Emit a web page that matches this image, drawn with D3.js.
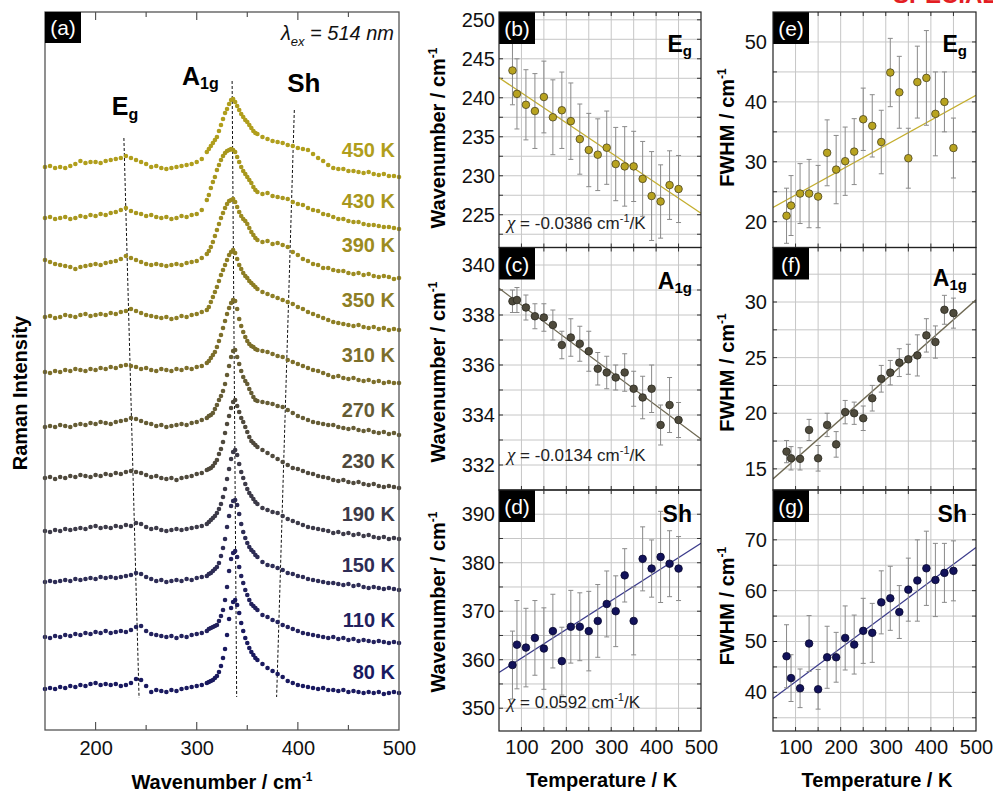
<!DOCTYPE html>
<html><head><meta charset="utf-8">
<script src="https://cdn.jsdelivr.net/npm/d3@7"></script>
<style>body{margin:0;background:#fff;} svg{display:block;}</style>
</head><body><svg id="c" width="993" height="792"></svg>
<script>
// ---------------- DATA ----------------
const wavenumbers = [150,155,160,165,170,175,180,185,190,195,200,205,210,215,220,225,230,235,240,245,250,255,260,265,270,275,280,285,290,295,300,305,310,
312,314,316,318,320,322,324,326,328,330,332,334,336,338,340,342,344,346,348,350,352,354,356,358,
360,365,370,375,380,385,390,395,400,405,410,415,420,425,430,435,440,445,450,455,460,465,470,475,480,485,490,495,500];
const traceLabels = ["450 K","430 K","390 K","350 K","310 K","270 K","230 K","190 K","150 K","110 K","80 K"];
const traceOffsets = [563,512,468,413,358,303,252,199,148,93,41];
const traceColors = ["#b09e1c","#a8971d","#9c8b20","#8d7e24","#7c6e2a","#655c34","#4f493c","#3c3a48","#2d2c55","#22215d","#19195f"];
const spec450 = [0,1,-1,0,-1,1,3,6,4,5,5,4,6,7,8,9,11,9,7,5,3,0,1,-1,-2,-1,0,1,2,3,5,8,15,
18,21,24,27,30,36,42,48,54,58,63,67,68,65,61,57,53,50,47,45,42,39,36,34,
33,30,28,26,25,24,22,21,19,18,17,13,9,6,2,-1,-2,-2,-4,-4,-5,-6,-5,-7,-8,-7,-9,-9,-10];
const spec430 = [0,1,-1,0,1,-1,0,2,1,3,2,4,3,5,6,8,10,7,5,4,2,3,1,0,1,-1,0,2,1,3,4,8,18,
23,30,36,41,48,53,58,62,65,67,68,69,68,66,61,56,51,47,44,41,38,35,31,28,
26,24,25,22,21,20,19,16,14,13,10,8,7,4,3,1,-1,-1,-3,-4,-4,-6,-7,-7,-8,-9,-9,-10,-11];
const spec390 = [2,0,-2,-3,-4,-5,-7,-5,-4,-3,-2,-3,-1,0,1,3,6,4,2,0,-2,-3,-2,-3,-4,-3,-2,-3,-1,0,1,4,8,
11,15,20,26,32,38,44,49,54,58,61,62,63,60,55,50,46,43,41,38,34,30,27,24,
22,20,21,18,19,17,15,10,7,3,1,-2,-3,-6,-6,-8,-9,-9,-11,-12,-11,-13,-12,-14,-15,-14,-15,-17,-16];
const spec350 = [0,1,-1,0,2,1,0,2,3,1,2,3,2,4,3,5,6,8,6,4,2,1,0,-1,0,-2,-1,1,0,2,3,5,7,
10,15,20,25,30,36,42,47,52,57,62,65,67,64,58,52,48,44,41,39,36,34,32,30,
28,25,23,21,19,17,15,13,10,8,5,3,1,-1,-3,-5,-6,-7,-8,-9,-8,-10,-11,-10,-12,-11,-13,-12,-13];
const spec310 = [0,-1,1,0,2,1,3,2,1,3,2,4,3,5,4,6,7,6,5,3,4,2,1,3,2,1,3,2,4,3,5,6,9,
11,14,17,20,25,31,37,44,51,58,64,69,72,71,63,53,46,40,35,31,28,26,25,23,
22,21,20,18,16,15,12,10,8,6,4,2,1,-1,-3,-5,-4,-6,-7,-6,-8,-9,-8,-10,-9,-11,-10,-11,-11];
const spec270 = [0,1,0,2,1,0,2,3,2,4,3,5,4,3,5,6,7,9,8,6,4,3,1,2,0,1,2,3,2,4,5,7,9,
11,12,14,18,22,27,31,36,43,52,61,70,76,77,70,63,56,50,46,43,38,34,30,27,
26,25,24,23,21,20,17,14,11,9,7,5,4,3,2,2,0,-1,-2,-1,-3,-4,-3,-5,-6,-5,-7,-6,-8];
const spec230 = [0,1,-1,1,0,2,1,3,2,1,3,2,4,3,5,4,6,7,6,5,3,1,2,0,-1,0,-2,0,1,2,4,5,8,
9,10,12,15,18,24,29,36,45,54,62,70,76,78,72,66,60,56,51,46,41,37,35,33,
31,28,25,22,19,16,13,10,9,7,5,4,2,1,0,-2,-3,-2,-4,-5,-4,-6,-7,-6,-8,-9,-8,-9,-10];
const spec190 = [0,-1,1,0,2,1,2,3,2,4,5,3,4,3,5,4,6,5,8,7,4,2,3,1,0,1,2,1,2,3,4,5,7,
9,11,13,15,18,22,27,34,42,52,62,72,79,81,76,67,59,53,47,42,38,35,32,29,
27,23,21,19,18,15,12,10,8,6,4,3,2,1,0,-2,-1,-3,-2,-4,-3,-5,-4,-6,-7,-6,-8,-7,-8];
const spec150 = [0,1,0,1,2,1,3,2,3,4,3,5,4,5,4,5,6,7,9,8,5,3,1,2,0,1,2,1,3,2,4,5,6,
8,9,11,13,15,19,26,34,43,55,66,76,81,82,77,68,58,50,44,39,35,32,30,27,
25,20,17,16,14,12,9,8,6,5,3,2,1,0,-1,-1,-2,-3,-2,-4,-3,-5,-6,-5,-6,-7,-6,-7,-8];
const spec110 = [0,-1,1,0,2,1,3,2,4,3,5,4,6,4,5,6,5,7,10,11,6,3,2,1,0,1,-1,1,0,2,3,4,6,
8,9,10,11,12,16,21,27,37,50,66,78,84,86,80,70,61,54,47,42,37,33,31,29,
27,22,20,17,15,12,10,8,6,4,3,2,1,0,-1,0,-2,-1,-3,-2,-4,-3,-4,-5,-4,-5,-6,-5,-6];
const spec80 = [0,1,0,2,1,3,2,4,3,5,6,4,5,4,5,3,4,6,10,9,3,-3,-1,-2,-3,-1,-2,0,1,2,3,4,6,
7,8,9,11,13,17,23,31,40,54,70,81,87,89,84,76,66,58,51,46,41,37,34,31,
29,25,21,18,15,12,8,6,4,3,2,1,0,1,-1,-1,-2,-1,-3,-2,-3,-4,-3,-4,-3,-5,-4,-3,-4];
const spectra = [spec450,spec430,spec390,spec350,spec310,spec270,spec230,spec190,spec150,spec110,spec80];

// mode guide lines in (a): wavenumber and intensity at top and bottom ends
const modeNames = ["Eg","A1g","Sh"];
const modeWnTop = [228,335,396.5];
const modeWnBottom = [243,339.5,379];
const modeIntTop = [592,649,620];
const modeIntBottom = [32,33,33];

// temperature-dependent fits
const tempK = [80,90,110,130,150,170,190,210,230,250,270,290,310,330,350,370,390,410,430,450];
const egPos = [243.5,240.5,239.1,238.3,240.1,237.5,238.4,237.0,234.7,233.3,232.7,233.6,231.5,231.2,231.2,229.6,227.4,226.7,228.8,228.3];
const egPosErr = [4.4,4.5,4.5,4.8,4.6,4.8,4.9,4.9,4.5,4.7,4.6,4.7,4.7,5.1,4.5,4.8,5.7,4.7,4.4,4.3];
const a1gPos = [338.55,338.6,338.3,337.95,337.9,337.6,336.8,337.1,336.85,336.55,335.85,335.7,335.5,335.7,335.05,334.7,335.05,333.6,334.4,333.8];
const a1gPosErr = [0.45,0.5,0.5,0.5,0.55,0.6,0.55,0.75,0.7,0.8,0.65,0.65,0.5,0.75,0.7,0.85,0.95,0.8,1.1,0.7];
const shPos = [358.9,363.1,362.5,364.5,362.3,365.9,359.7,366.8,366.8,365.9,368.0,371.5,370.0,377.4,368.0,380.8,378.8,381.2,379.8,378.8];
const shPosErr = [7.0,9.1,8.1,7.7,8.4,7.6,7.0,7.5,7.0,8.2,7.5,6.8,7.3,5.5,7.0,6.6,5.9,9.4,6.8,6.6];
const egFwhm = [21.0,22.7,24.7,24.7,24.2,31.5,28.7,30.1,31.7,37.1,36.0,33.3,44.9,41.6,30.6,43.3,44.0,38.0,40.0,32.3];
const egFwhmErr = [4.6,5.0,5.0,5.7,5.2,5.5,5.7,5.7,5.5,5.2,5.2,5.3,5.7,6.0,5.0,6.0,7.9,7.0,5.0,5.0];
const a1gFwhm = [16.55,15.95,15.9,18.5,15.95,18.95,17.2,20.1,20.0,19.55,21.35,23.1,23.65,24.55,24.85,25.2,27.0,26.4,29.3,29.0];
const a1gFwhmErr = [1.0,1.05,1.0,0.95,1.15,1.05,1.15,1.05,1.0,1.1,1.15,1.2,1.1,1.25,1.35,1.85,1.5,1.45,1.3,1.35];
const shFwhm = [47.1,42.8,40.8,49.6,40.6,46.9,46.9,50.7,49.4,52.1,51.7,57.7,58.5,55.8,60.2,62.0,64.4,62.1,63.5,63.9];
const shFwhmErr = [6.2,4.6,3.8,5.5,3.9,6.1,4.9,6.3,5.8,6.4,5.8,6.2,6.3,5.2,6.2,8.0,7.3,7.2,5.8,5.9];
const fitSlope = [-0.0386,-0.0134,0.0592,0.0416,0.0358,0.066];
const fitIntercept = [244.5,339.74,354.4,20.3,12.3,35.5];
const chiLabels = ["-0.0386","-0.0134","0.0592"];
const gridT = [100,150,200,250,300,350,400,450];
const tLabels = [100,200,300,400,500];
const aMajor = [200,300,400];
const aMinor = [250,350,450];
const aLabels = [200,300,400,500];

// ---------------- DRAW ----------------
const FONT = "Arial, 'Liberation Sans', Helvetica, sans-serif";
const svg = d3.select("#c").attr("font-family", FONT);

// red cut-off header text at the very top right
svg.append("text").attr("x",893).attr("y",3).attr("font-size",24).attr("font-weight","bold")
  .attr("fill","#e31e24").text("SPECIAL");

// ===== Panel (a) =====
const xA = d3.scaleLinear().domain([150,500]).range([45,399]);
const yA = d3.scaleLinear().domain([0,718]).range([730,12]);
const gA = svg.append("g");

// ticks (inward, top and bottom)
[[aMajor,8],[aMinor,5]].forEach(([vals,len])=>{
  gA.append("g").selectAll("line").data(vals).join("line")
    .attr("x1",d=>xA(d)).attr("x2",d=>xA(d)).attr("y1",yA(0)).attr("y2",yA(0)-len)
    .attr("stroke","#555").attr("stroke-width",1.2);
  gA.append("g").selectAll("line").data(vals).join("line")
    .attr("x1",d=>xA(d)).attr("x2",d=>xA(d)).attr("y1",yA(718)).attr("y2",yA(718)+len)
    .attr("stroke","#555").attr("stroke-width",1.2);
});

// dashed guide lines
modeNames.forEach((m,i)=>{
  gA.append("line")
    .attr("x1",xA(modeWnTop[i])).attr("y1",yA(modeIntTop[i]))
    .attr("x2",xA(modeWnBottom[i])).attr("y2",yA(modeIntBottom[i]))
    .attr("stroke","#111").attr("stroke-width",1).attr("stroke-dasharray","3,2");
});

// spectra
spectra.forEach((spec,i)=>{
  const pts = spec.map((v,j)=>[wavenumbers[j], traceOffsets[i]+v]);
  gA.append("g").attr("fill",traceColors[i]).selectAll("circle").data(pts).join("circle")
    .attr("cx",d=>xA(d[0])).attr("cy",d=>yA(d[1])).attr("r",2.3);
  gA.append("text").attr("x",395).attr("y",yA(traceOffsets[i])-10)
    .attr("text-anchor","end").attr("font-size",20).attr("font-weight","bold")
    .attr("fill",traceColors[i]).text(traceLabels[i]);
});

// mode labels in (a)
function modeLabel(g, x, y, main, sub, size, subSize, dy, anchor){
  const t = g.append("text").attr("x",x).attr("y",y).attr("text-anchor",anchor||"start")
    .attr("font-weight","bold").attr("fill","#000").attr("font-size",size);
  t.append("tspan").text(main);
  if(sub) t.append("tspan").attr("font-size",subSize).attr("dy",dy).text(sub);
}
modeLabel(gA, xA(216), 115, "E", "g", 25, 16, 5);
modeLabel(gA, xA(285.5), 85, "A", "1g", 25, 16, 4);
modeLabel(gA, xA(389.5), 92, "Sh", null, 26);

// lambda
const lam = gA.append("text").attr("x",394).attr("y",40).attr("text-anchor","end")
  .attr("font-size",20).attr("font-style","italic").attr("fill","#111");
lam.append("tspan").text("λ");
lam.append("tspan").attr("font-size",13).attr("dy",6).text("ex");
lam.append("tspan").attr("dy",-6).text(" = 514 nm");

// frame
gA.append("rect").attr("x",xA(150)).attr("y",yA(718)).attr("width",xA(500)-xA(150)).attr("height",yA(0)-yA(718))
  .attr("fill","none").attr("stroke","#555").attr("stroke-width",1.3);
// (a) box
gA.append("rect").attr("x",45).attr("y",12).attr("width",36).attr("height",31).attr("fill","#000");
gA.append("text").attr("x",63).attr("y",35).attr("text-anchor","middle").attr("fill","#fff").attr("font-size",21).text("(a)");

// x axis labels (a)
const axA = gA.append("g").attr("transform",`translate(0,${yA(0)})`)
  .call(d3.axisBottom(xA).tickValues(aLabels).tickSize(0).tickPadding(11).tickFormat(d3.format("d")));
axA.select(".domain").remove();
axA.selectAll("text").attr("font-size",20).attr("font-family",FONT).attr("fill","#111");

// axis titles
function title(x,y,rot,txt,sup,rest){
  const t = svg.append("text").attr("transform",`translate(${x},${y}) rotate(${rot})`)
    .attr("text-anchor","middle").attr("font-weight","bold").attr("font-size",20).attr("fill","#000");
  t.append("tspan").text(txt);
  if(sup){ t.append("tspan").attr("font-size",12).attr("dy",-8).text(sup);
    if(rest) t.append("tspan").attr("dy",8).text(rest); }
}
title(27,393,-90,"Raman Intensity");
title(222,789,0,"Wavenumber / cm","-1");

// ===== Right panels =====
const rows = [[12,247.5],[247.5,490],[490,731]];
const cols = [[499,701],[773,976]];
const panels = [
  {id:"b",col:0,row:0,ydom:[220.8,251.0],grid:[222.5,225,227.5,230,232.5,235,237.5,240,242.5,245,247.5,250],labels:[225,230,235,240,245,250],vals:egPos,errs:egPosErr,fit:0,fill:"#b8a320",stroke:"#4a4420",line:"#c4ae2e",mode:["E","g"],modeY:40,chi:0,chiY:229},
  {id:"c",col:0,row:1,ydom:[331.0,340.7],grid:[332,333,334,335,336,337,338,339,340],labels:[332,334,336,338,340],vals:a1gPos,errs:a1gPosErr,fit:1,fill:"#4e4a3c",stroke:"#2a281f",line:"#6e6852",mode:["A","1g"],modeY:41,chi:1,chiY:461},
  {id:"d",col:0,row:2,ydom:[345.3,395.0],grid:[350,355,360,365,370,375,380,385,390],labels:[350,360,370,380,390],vals:shPos,errs:shPosErr,fit:2,fill:"#12125a",stroke:"#08082e",line:"#3c3c8c",mode:["Sh",null],modeY:32,chi:2,chiY:708,bottom:true},
  {id:"e",col:1,row:0,ydom:[15.7,55.0],grid:[20,25,30,35,40,45,50],labels:[20,30,40,50],vals:egFwhm,errs:egFwhmErr,fit:3,fill:"#b8a320",stroke:"#4a4420",line:"#c4ae2e",mode:["E","g"],modeY:40},
  {id:"f",col:1,row:1,ydom:[13.1,34.9],grid:[15,17.5,20,22.5,25,27.5,30,32.5],labels:[15,20,25,30],vals:a1gFwhm,errs:a1gFwhmErr,fit:4,fill:"#4e4a3c",stroke:"#2a281f",line:"#6e6852",mode:["A","1g"],modeY:38},
  {id:"g",col:1,row:2,ydom:[32.4,79.8],grid:[35,40,45,50,55,60,65,70,75],labels:[40,50,60,70],vals:shFwhm,errs:shFwhmErr,fit:5,fill:"#12125a",stroke:"#08082e",line:"#3c3c8c",mode:["Sh",null],modeY:32,bottom:true}
];

panels.forEach(p=>{
  const [x0,x1] = cols[p.col], [y0,y1] = rows[p.row];
  const x = d3.scaleLinear().domain([50,500]).range([x0,x1]);
  const y = d3.scaleLinear().domain(p.ydom).range([y1,y0]);
  const g = svg.append("g");
  const clip = "clip-"+p.id;
  svg.append("clipPath").attr("id",clip).append("rect").attr("x",x0).attr("y",y0).attr("width",x1-x0).attr("height",y1-y0);

  // grid
  g.append("g").selectAll("line").data(gridT).join("line")
    .attr("x1",d=>x(d)).attr("x2",d=>x(d)).attr("y1",y0).attr("y2",y1)
    .attr("stroke","#c6c6c6").attr("stroke-width",1);
  g.append("g").selectAll("line").data(p.grid).join("line")
    .attr("y1",d=>y(d)).attr("y2",d=>y(d)).attr("x1",x0).attr("x2",x1)
    .attr("stroke","#c6c6c6").attr("stroke-width",1);
  // inward ticks
  const tk = g.append("g").attr("stroke","#333").attr("stroke-width",1);
  tk.selectAll(".tb").data(gridT).join("line").attr("class","tb")
    .attr("x1",d=>x(d)).attr("x2",d=>x(d)).attr("y1",y1).attr("y2",y1-4);
  tk.selectAll(".tt").data(gridT).join("line").attr("class","tt")
    .attr("x1",d=>x(d)).attr("x2",d=>x(d)).attr("y1",y0).attr("y2",y0+4);
  tk.selectAll(".tl").data(p.grid).join("line").attr("class","tl")
    .attr("y1",d=>y(d)).attr("y2",d=>y(d)).attr("x1",x0).attr("x2",x0+4);
  tk.selectAll(".tr").data(p.grid).join("line").attr("class","tr")
    .attr("y1",d=>y(d)).attr("y2",d=>y(d)).attr("x1",x1).attr("x2",x1-4);

  // fit line
  const m = fitSlope[p.fit], b = fitIntercept[p.fit];
  g.append("line").attr("clip-path",`url(#${clip})`)
    .attr("x1",x(50)).attr("y1",y(b+m*50)).attr("x2",x(500)).attr("y2",y(b+m*500))
    .attr("stroke",p.line).attr("stroke-width",1.3);

  // error bars
  const pts = tempK.map((t,i)=>({t:t,v:p.vals[i],e:p.errs[i]}));
  const eb = g.append("g").attr("stroke","#8a8a8a").attr("stroke-width",1).attr("clip-path",`url(#${clip})`);
  eb.selectAll(".v").data(pts).join("line").attr("class","v")
    .attr("x1",d=>x(d.t)).attr("x2",d=>x(d.t)).attr("y1",d=>y(d.v-d.e)).attr("y2",d=>y(d.v+d.e));
  eb.selectAll(".ct").data(pts).join("line").attr("class","ct")
    .attr("x1",d=>x(d.t)-2.5).attr("x2",d=>x(d.t)+2.5).attr("y1",d=>y(d.v+d.e)).attr("y2",d=>y(d.v+d.e));
  eb.selectAll(".cb").data(pts).join("line").attr("class","cb")
    .attr("x1",d=>x(d.t)-2.5).attr("x2",d=>x(d.t)+2.5).attr("y1",d=>y(d.v-d.e)).attr("y2",d=>y(d.v-d.e));

  // points
  g.append("g").selectAll("circle").data(pts).join("circle")
    .attr("cx",d=>x(d.t)).attr("cy",d=>y(d.v)).attr("r",3.8)
    .attr("fill",p.fill).attr("stroke",p.stroke).attr("stroke-width",0.8);

  // label box
  g.append("rect").attr("x",x0).attr("y",y0).attr("width",36).attr("height",32).attr("fill","#000");
  g.append("text").attr("x",x0+18).attr("y",y0+24).attr("text-anchor","middle")
    .attr("fill","#fff").attr("font-size",21).text("("+p.id+")");

  // mode label
  modeLabel(g, x1-9, y0+p.modeY, p.mode[0], p.mode[1], 23, 15, 4, "end");

  // chi label
  if(p.chi!==undefined){
    const t = g.append("text").attr("x",x0+8).attr("y",p.chiY).attr("font-size",17).attr("fill","#222");
    t.append("tspan").attr("font-family","'Liberation Serif','DejaVu Serif',serif").attr("font-style","italic").attr("font-size",19).text("χ");
    t.append("tspan").text(" = "+chiLabels[p.chi]+" cm");
    t.append("tspan").attr("font-size",11).attr("dy",-7).text("-1");
    t.append("tspan").attr("dy",7).text("/K");
  }

  // frame
  g.append("rect").attr("x",x0).attr("y",y0).attr("width",x1-x0).attr("height",y1-y0)
    .attr("fill","none").attr("stroke","#222").attr("stroke-width",1.2);

  // y tick labels
  const ay = svg.append("g").attr("transform",`translate(${x0},0)`)
    .call(d3.axisLeft(y).tickValues(p.labels).tickSize(0).tickPadding(p.col===0?4:6).tickFormat(d3.format("d")));
  ay.select(".domain").remove();
  ay.selectAll("text").attr("font-size",20).attr("font-family",FONT).attr("fill","#111");

  if(p.bottom){
    const ax = svg.append("g").attr("transform",`translate(0,${y1})`)
      .call(d3.axisBottom(x).tickValues(tLabels).tickSize(0).tickPadding(9).tickFormat(d3.format("d")));
    ax.select(".domain").remove();
    ax.selectAll("text").attr("font-size",20).attr("font-family",FONT).attr("fill","#111");
  }
});

// right axis titles
title(445,138,-90,"Wavenumber / cm","-1");
title(445,372,-90,"Wavenumber / cm","-1");
title(445,602,-90,"Wavenumber / cm","-1");
title(734,127.5,-90,"FWHM / cm","-1");
title(734,372.5,-90,"FWHM / cm","-1");
title(734,606,-90,"FWHM / cm","-1");
title(601.7,787,0,"Temperature / K");
title(877,787,0,"Temperature / K");
</script>
</body></html>
